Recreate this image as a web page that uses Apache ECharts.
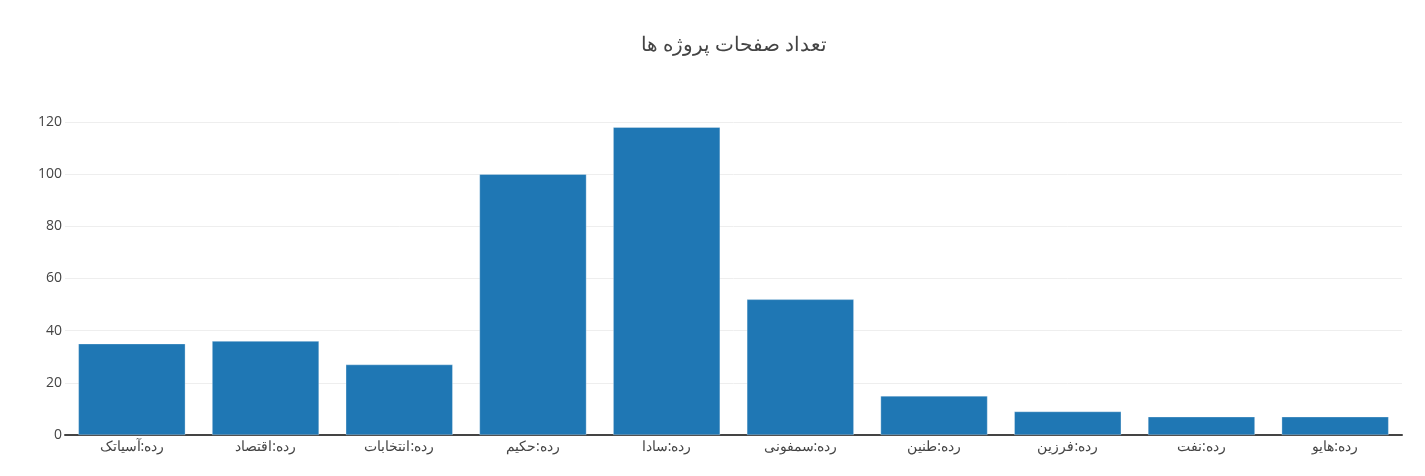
<!DOCTYPE html>
<html>
<head>
<meta charset="utf-8">
<script src="https://cdn.jsdelivr.net/npm/echarts@6/dist/echarts.min.js"></script>
<style>
html,body{margin:0;padding:0;background:#fff;}
#chart{width:1425px;height:476px;}
</style>
</head>
<body>
<div id="chart"></div>
<script>
const titleText = 'تعداد صفحات پروژه ها';
const categories = ['رده:آسیاتک','رده:اقتصاد','رده:انتخابات','رده:حکیم','رده:سادا','رده:سمفونی','رده:طنین','رده:فرزین','رده:نفت','رده:هایو'];
const pageCounts = [35, 36, 27, 100, 118, 52, 15, 9, 7, 7];
const yTicks = [0, 20, 40, 60, 80, 100, 120];

const chart = echarts.init(document.getElementById('chart'), null, {renderer: 'canvas'});
chart.setOption({
  animation: false,
  backgroundColor: '#fff',
  textStyle: {fontFamily: '"Open Sans", "Noto Sans", sans-serif'},
  title: {
    text: titleText,
    left: 729,
    textAlign: 'center',
    top: 30,
    textStyle: {fontFamily: '"Open Sans", "Noto Sans", sans-serif', fontSize: 20, fontWeight: 'normal', color: '#444'}
  },
  grid: {left: 65, right: 23, top: 122, bottom: 41, containLabel: false},
  xAxis: {
    type: 'category',
    data: categories,
    axisLine: {show: true, lineStyle: {color: '#444', width: 2}},
    axisTick: {show: false},
    axisLabel: {color: '#444', fontSize: 14, margin: 5, fontFamily: '"Open Sans", "Noto Sans", sans-serif'}
  },
  yAxis: {
    type: 'value',
    min: yTicks[0],
    max: yTicks[yTicks.length - 1],
    interval: 20,
    axisLine: {show: false},
    axisTick: {show: false},
    axisLabel: {color: '#444', fontSize: 14, margin: 3},
    splitLine: {lineStyle: {color: '#eee', width: 1}}
  },
  series: [{
    type: 'bar',
    data: pageCounts,
    barCategoryGap: '20%',
    itemStyle: {color: '#1f77b4', borderColor: 'rgba(255,255,255,0.6)', borderWidth: 0.5}
  }]
});
</script>
</body>
</html>
